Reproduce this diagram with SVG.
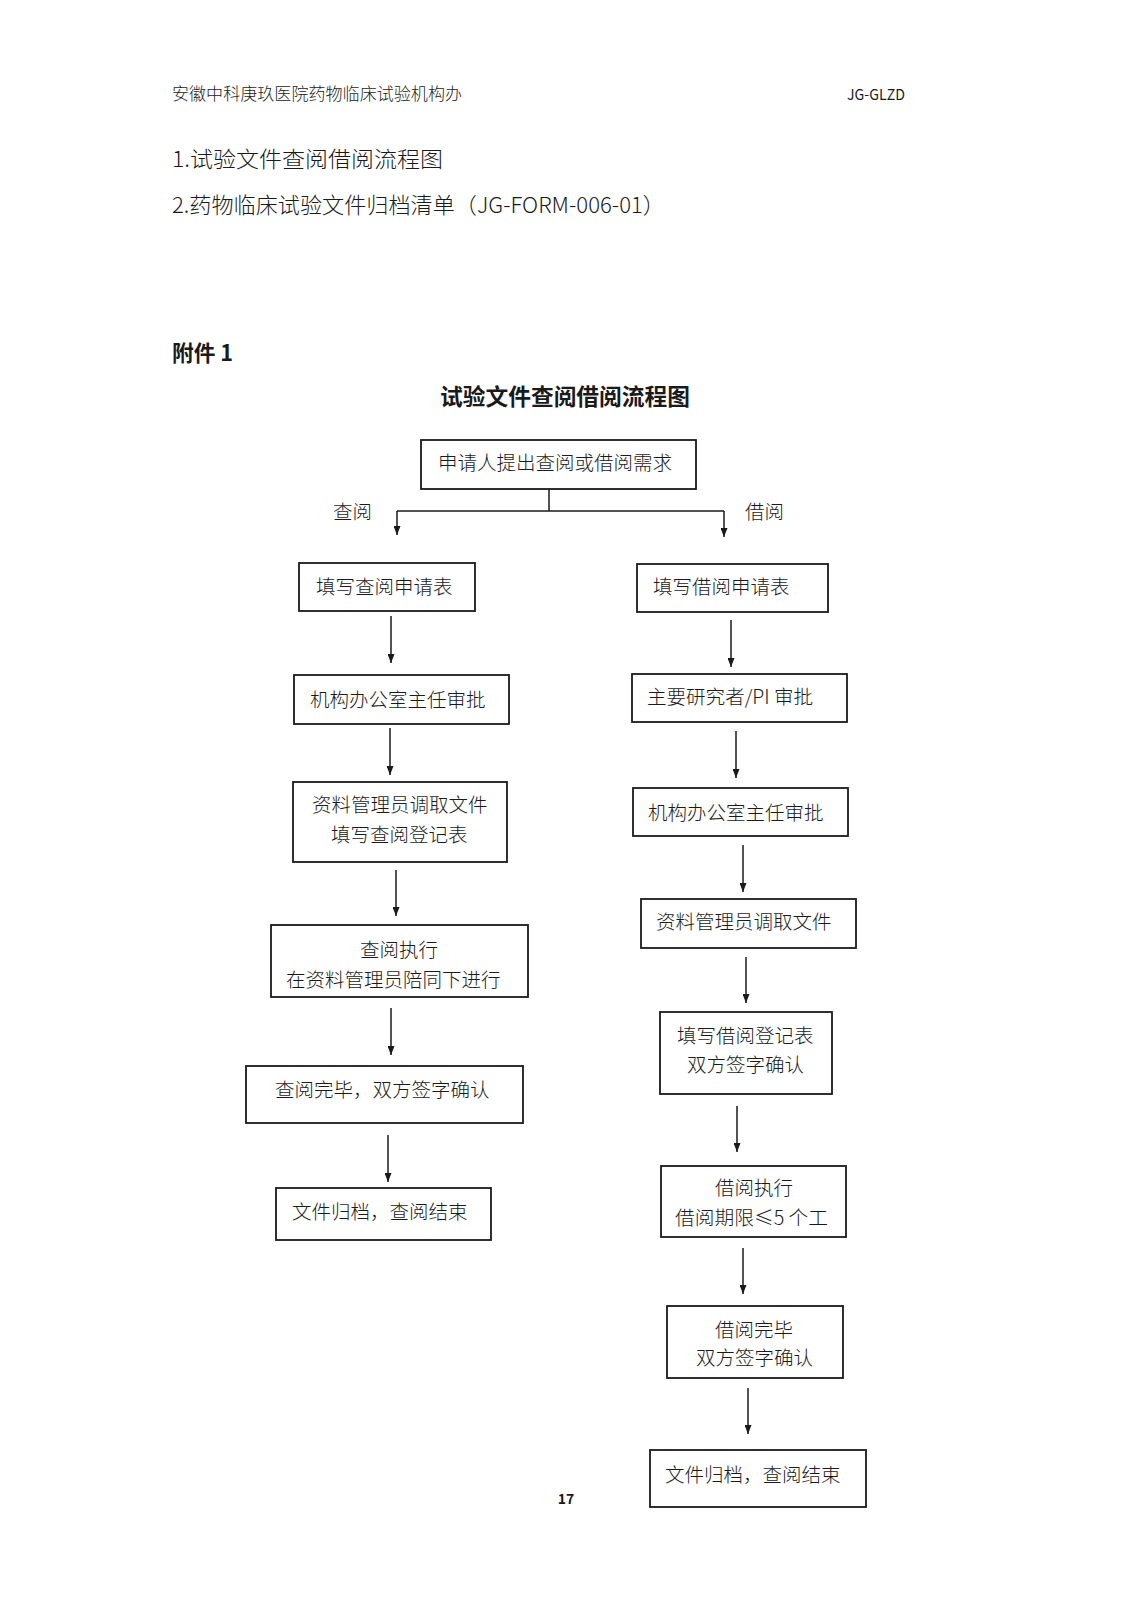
<svg xmlns="http://www.w3.org/2000/svg" width="1131" height="1600" viewBox="0 0 1131 1600">
<defs>
<style>
text{font-family:"Noto Sans CJK SC","Liberation Sans",sans-serif;fill:#1a1a1a;}
.bt{font-size:19.5px;font-weight:300;}
.box{fill:#fff;stroke:#1a1a1a;stroke-width:1.8;}
.ln{stroke:#1a1a1a;stroke-width:1.5;fill:none;}
.ar{stroke:#1a1a1a;stroke-width:1.5;fill:none;marker-end:url(#ah);}
</style>
<marker id="ah" markerUnits="userSpaceOnUse" markerWidth="9" markerHeight="7" refX="9" refY="3.5" orient="auto" viewBox="0 0 9 7">
<path d="M0,0 L9,3.5 L0,7 z" fill="#1a1a1a"/>
</marker>
</defs>
<rect width="1131" height="1600" fill="#fff"/>
<g id="page-text">
<text x="172" y="100" font-size="16.5" font-weight="300" textLength="290" lengthAdjust="spacingAndGlyphs">安徽中科庚玖医院药物临床试验机构办</text>
<text x="847" y="100" font-size="15" font-family="Liberation Sans, sans-serif" textLength="58" lengthAdjust="spacingAndGlyphs">JG-GLZD</text>
<text x="172" y="167" font-size="22" font-weight="300" textLength="271" lengthAdjust="spacingAndGlyphs">1.试验文件查阅借阅流程图</text>
<text x="172" y="213" font-size="22" font-weight="300" textLength="493" lengthAdjust="spacingAndGlyphs">2.药物临床试验文件归档清单（JG-FORM-006-01）</text>
<text x="172" y="361" font-size="22" font-weight="bold" textLength="61" lengthAdjust="spacingAndGlyphs">附件 1</text>
<text x="440" y="405" font-size="22.5" font-weight="bold" textLength="250" lengthAdjust="spacingAndGlyphs">试验文件查阅借阅流程图</text>
<text x="566" y="1504" font-size="14" font-weight="bold" text-anchor="middle" font-family="Liberation Sans, sans-serif">17</text>
</g>
<g id="connectors">
<line class="ln" x1="549" y1="489" x2="549" y2="511"/>
<line class="ln" x1="397" y1="511" x2="724" y2="511"/>
<line class="ar" x1="397" y1="511" x2="397" y2="535"/>
<line class="ar" x1="724" y1="511" x2="724" y2="537"/>
<line class="ar" x1="391" y1="616" x2="391" y2="663"/>
<line class="ar" x1="390" y1="728" x2="390" y2="775"/>
<line class="ar" x1="396" y1="870" x2="396" y2="916"/>
<line class="ar" x1="391" y1="1008" x2="391" y2="1055"/>
<line class="ar" x1="388" y1="1135" x2="388" y2="1182"/>
<line class="ar" x1="731" y1="620" x2="731" y2="667"/>
<line class="ar" x1="736" y1="731" x2="736" y2="778"/>
<line class="ar" x1="743" y1="845" x2="743" y2="892"/>
<line class="ar" x1="746" y1="957" x2="746" y2="1003"/>
<line class="ar" x1="737" y1="1106" x2="737" y2="1152"/>
<line class="ar" x1="743" y1="1248" x2="743" y2="1294"/>
<line class="ar" x1="748" y1="1388" x2="748" y2="1434"/>
<text class="bt" x="333" y="519" font-size="19">查阅</text>
<text class="bt" x="745" y="519" font-size="19">借阅</text>
</g>
<g id="n-start">
<rect class="box" x="421" y="440" width="275" height="49"/>
<text class="bt" x="438" y="470">申请人提出查阅或借阅需求</text>
</g>
<g id="n-l1">
<rect class="box" x="299" y="563" width="176" height="48"/>
<text class="bt" x="316" y="594">填写查阅申请表</text>
</g>
<g id="n-l2">
<rect class="box" x="294" y="675" width="215" height="49"/>
<text class="bt" x="310" y="707">机构办公室主任审批</text>
</g>
<g id="n-l3">
<rect class="box" x="293" y="782" width="214" height="80"/>
<text class="bt" x="312" y="812">资料管理员调取文件</text>
<text class="bt" x="331" y="842">填写查阅登记表</text>
</g>
<g id="n-l4">
<rect class="box" x="271" y="925" width="257" height="72"/>
<text class="bt" x="360" y="957">查阅执行</text>
<text class="bt" x="286" y="987">在资料管理员陪同下进行</text>
</g>
<g id="n-l5">
<rect class="box" x="246" y="1066" width="277" height="57"/>
<text class="bt" x="275" y="1097">查阅完毕，双方签字确认</text>
</g>
<g id="n-l6">
<rect class="box" x="276" y="1188" width="215" height="52"/>
<text class="bt" x="292" y="1219">文件归档，查阅结束</text>
</g>
<g id="n-r1">
<rect class="box" x="637" y="564" width="191" height="48"/>
<text class="bt" x="653" y="594">填写借阅申请表</text>
</g>
<g id="n-r2">
<rect class="box" x="632" y="674" width="215" height="48"/>
<text class="bt" x="647" y="704" textLength="166" lengthAdjust="spacingAndGlyphs">主要研究者/PI 审批</text>
</g>
<g id="n-r3">
<rect class="box" x="633" y="788" width="215" height="48"/>
<text class="bt" x="648" y="820">机构办公室主任审批</text>
</g>
<g id="n-r4">
<rect class="box" x="641" y="899" width="215" height="49"/>
<text class="bt" x="656" y="929">资料管理员调取文件</text>
</g>
<g id="n-r5">
<rect class="box" x="660" y="1012" width="172" height="82"/>
<text class="bt" x="677" y="1043">填写借阅登记表</text>
<text class="bt" x="687" y="1072">双方签字确认</text>
</g>
<g id="n-r6">
<rect class="box" x="661" y="1166" width="185" height="71"/>
<text class="bt" x="715" y="1195">借阅执行</text>
<text class="bt" x="675" y="1225" textLength="153" lengthAdjust="spacingAndGlyphs">借阅期限≤5 个工</text>
</g>
<g id="n-r7">
<rect class="box" x="667" y="1306" width="176" height="72"/>
<text class="bt" x="715" y="1337">借阅完毕</text>
<text class="bt" x="696" y="1365">双方签字确认</text>
</g>
<g id="n-r8">
<rect class="box" x="650" y="1450" width="216" height="57"/>
<text class="bt" x="665" y="1482">文件归档，查阅结束</text>
</g>
</svg>
